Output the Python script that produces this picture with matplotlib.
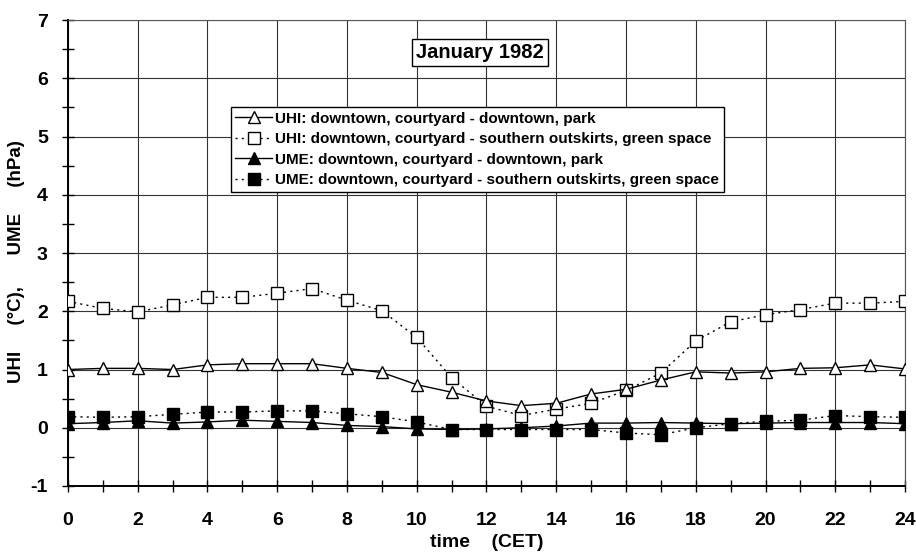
import numpy as np
import matplotlib.pyplot as plt
from matplotlib.ticker import MultipleLocator

plt.rcParams['font.family'] = ['Liberation Sans', 'DejaVu Sans']
plt.rcParams['font.weight'] = 'bold'
plt.rcParams['axes.unicode_minus'] = False

# hours (CET)
hours = list(range(25))

# UHI downtown courtyard - downtown park
uhi_park = [1.00, 1.02, 1.02, 1.00, 1.08, 1.10, 1.10, 1.10, 1.02, 0.95, 0.74, 0.61,
            0.46, 0.38, 0.42, 0.58, 0.66, 0.82, 0.96, 0.94, 0.96, 1.02, 1.03, 1.08, 1.01]
# UHI downtown courtyard - southern outskirts green space
uhi_green = [2.17, 2.05, 1.99, 2.11, 2.24, 2.24, 2.31, 2.39, 2.19, 2.01, 1.55, 0.86,
             0.37, 0.21, 0.32, 0.42, 0.64, 0.94, 1.49, 1.82, 1.94, 2.03, 2.14, 2.14, 2.17]
# UME downtown courtyard - downtown park
ume_park = [0.07, 0.09, 0.12, 0.08, 0.10, 0.13, 0.11, 0.09, 0.04, 0.02, -0.02, -0.03,
            -0.02, 0.00, 0.03, 0.08, 0.08, 0.09, 0.08, 0.07, 0.08, 0.09, 0.09, 0.09, 0.07]
# UME downtown courtyard - southern outskirts green space
ume_green = [0.19, 0.18, 0.19, 0.23, 0.27, 0.27, 0.29, 0.29, 0.24, 0.19, 0.10, -0.03,
             -0.03, -0.03, -0.03, -0.03, -0.09, -0.12, 0.00, 0.07, 0.11, 0.13, 0.21, 0.19, 0.18]

labels = ["UHI: downtown, courtyard - downtown, park",
          "UHI: downtown, courtyard - southern outskirts, green space",
          "UME: downtown, courtyard - downtown, park",
          "UME: downtown, courtyard - southern outskirts, green space"]

fig = plt.figure(figsize=(9.16, 5.59), dpi=100)
ax = fig.add_axes([0.0742, 0.1306, 0.9138, 0.8334])

ax.plot(hours, uhi_park, color='black', lw=1.0, marker='^', ms=8.5,
        mfc='white', mec='black', mew=1.0, label=labels[0], zorder=4)
ax.plot(hours, uhi_green, color='black', lw=1.0, ls=(0, (1.5, 3)), marker='s', ms=8,
        mfc='white', mec='black', mew=1.0, label=labels[1], zorder=3)
ax.plot(hours, ume_park, color='black', lw=1.0, marker='^', ms=8.5,
        mfc='black', mec='black', label=labels[2], zorder=4)
ax.plot(hours, ume_green, color='black', lw=1.0, ls=(0, (1.5, 3)), marker='s', ms=8,
        mfc='black', mec='black', label=labels[3], zorder=3)

ax.set_xlim(0, 24)
ax.set_ylim(-1, 7)
ax.xaxis.set_major_locator(MultipleLocator(2))
ax.xaxis.set_minor_locator(MultipleLocator(1))
ax.yaxis.set_major_locator(MultipleLocator(1))
ax.yaxis.set_minor_locator(MultipleLocator(0.5))
ax.tick_params(which='major', direction='inout', length=9, width=1.0,
               labelsize=14, pad=6)
ax.tick_params(which='minor', direction='inout', length=9, width=1.0)
ax.tick_params(axis='x', pad=14)
ax.tick_params(axis='y', pad=10)
for lab in ax.get_xticklabels() + ax.get_yticklabels():
    lab.set_fontweight('bold')

ax.grid(True, which='major', color='#333333', lw=0.8)
ax.set_axisbelow(True)
for side in ['top', 'right']:
    ax.spines[side].set_color('#555555')
    ax.spines[side].set_linewidth(0.8)
ax.spines['left'].set_linewidth(1.4)
ax.spines['bottom'].set_linewidth(1.4)

ax.set_xlabel("time    (CET)", fontsize=14, fontweight='bold', labelpad=4)
ax.set_ylabel("UHI     (°C),      UME     (hPa)", fontsize=13.5, fontweight='bold')
ax.yaxis.set_label_coords(-0.051, 0.481)

ax.text(0.492, 0.931, "January 1982", transform=ax.transAxes, ha='center', va='center',
        fontsize=14.5, fontweight='bold',
        bbox=dict(boxstyle='square,pad=0.2', fc='white', ec='black', lw=1.0), zorder=6)

leg = ax.legend(loc='upper center', bbox_to_anchor=(0.489, 0.813), fancybox=False,
                edgecolor='black', framealpha=1, prop={'size': 11, 'weight': 'bold'},
                handlelength=2.4, handletextpad=0.2, borderpad=0.3, labelspacing=0.42,
                borderaxespad=0)
leg.get_frame().set_linewidth(1.0)
leg.set_zorder(6)

fig.savefig("out.png", dpi=100)
